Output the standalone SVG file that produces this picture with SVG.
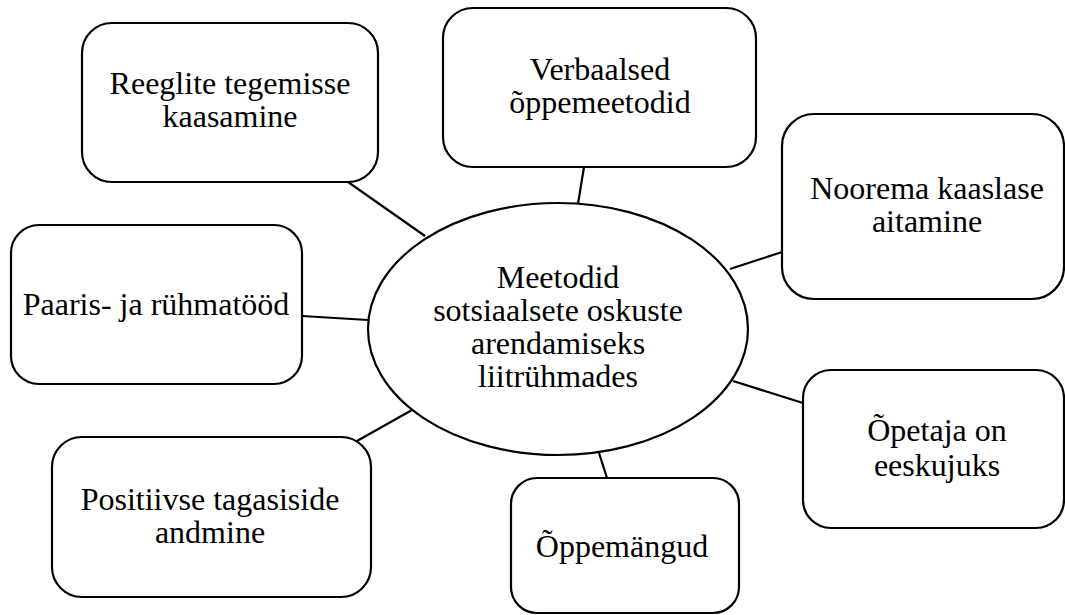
<svg xmlns="http://www.w3.org/2000/svg" width="1065" height="615" viewBox="0 0 1065 615" font-family="'Liberation Serif', 'Times New Roman', Times, 'DejaVu Serif', serif">
<style>
.box{fill:#fff;stroke:#000;stroke-width:2.2}
.ln{stroke:#000;stroke-width:2.2;fill:none}
.t{font-family:'Liberation Serif','Times New Roman',Times,'DejaVu Serif',serif;font-size:32px;fill:#000;text-anchor:middle}
</style>
<rect width="1065" height="615" fill="#fff"/>
<g id="connectors">
<line class="ln" x1="348" y1="182" x2="425" y2="236"/>
<line class="ln" x1="584" y1="167" x2="578" y2="204"/>
<line class="ln" x1="782" y1="252" x2="730" y2="269"/>
<line class="ln" x1="302" y1="316" x2="368" y2="320"/>
<line class="ln" x1="357" y1="441" x2="412" y2="410"/>
<line class="ln" x1="733" y1="381" x2="803" y2="403"/>
<line class="ln" x1="599" y1="453" x2="607" y2="478"/>
</g>
<g id="center">
<ellipse class="box" cx="558" cy="329" rx="190" ry="126"/>
<text class="t" x="558" y="288">Meetodid</text>
<text class="t" x="558" y="321">sotsiaalsete oskuste</text>
<text class="t" x="558" y="354">arendamiseks</text>
<text class="t" x="558" y="387">liitrühmades</text>
</g>
<g id="reeglite">
<rect class="box" x="82" y="23" width="296" height="159" rx="30"/>
<text class="t" x="230" y="94">Reeglite tegemisse</text>
<text class="t" x="230" y="127">kaasamine</text>
</g>
<g id="verbaalsed">
<rect class="box" x="443" y="8" width="313" height="159" rx="30"/>
<text class="t" x="600" y="80">Verbaalsed</text>
<text class="t" x="600" y="113">õppemeetodid</text>
</g>
<g id="noorema">
<rect class="box" x="782" y="114" width="282" height="185" rx="32"/>
<text class="t" x="927" y="199">Noorema kaaslase</text>
<text class="t" x="927" y="232">aitamine</text>
</g>
<g id="paaris">
<rect class="box" x="11" y="225" width="291" height="159" rx="28"/>
<text class="t" x="156" y="315">Paaris- ja rühmatööd</text>
</g>
<g id="positiivse">
<rect class="box" x="52" y="437" width="319" height="160" rx="30"/>
<text class="t" x="210" y="510">Positiivse tagasiside</text>
<text class="t" x="210" y="543">andmine</text>
</g>
<g id="opetaja">
<rect class="box" x="803" y="370" width="261" height="158" rx="28"/>
<text class="t" x="937" y="441">Õpetaja on</text>
<text class="t" x="937" y="476">eeskujuks</text>
</g>
<g id="oppemangud">
<rect class="box" x="511" y="478" width="228" height="135" rx="26"/>
<text class="t" x="622" y="557">Õppemängud</text>
</g>
</svg>
